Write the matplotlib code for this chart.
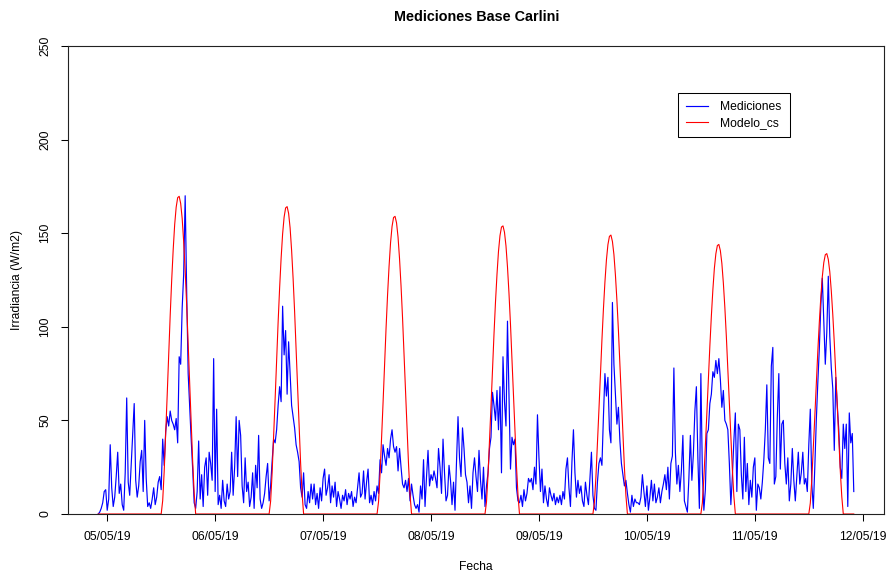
import numpy as np
import matplotlib
matplotlib.use("Agg")
import matplotlib.pyplot as plt
import matplotlib.dates as mdates

plt.rcParams['font.family'] = ['Liberation Sans', 'DejaVu Sans']

# serie de mediciones cada 20 minutos, desde 04/05/19 22:00 (UTC)
inicio = np.datetime64('2019-05-04T22:00')
paso = np.timedelta64(20, 'm')

med_05 = [0, 1, 3, 6, 12, 13, 2, 8, 37, 14, 4, 9, 20, 33, 11, 16, 5, 2, 22, 62,
          17, 10, 26, 42, 59, 18, 9, 15, 28, 34, 12, 50, 19, 4, 6, 3, 8, 14, 5, 9,
          17, 20, 13, 40, 26, 44, 52, 47, 55, 50, 48, 45, 51, 38, 84, 80, 110, 128, 170, 119,
          75, 57, 40, 24, 6, 3, 12, 39, 8, 21, 4, 25]
med_06 = [30, 10, 33, 27, 18, 83, 12, 56, 5, 10, 3, 18, 7, 4, 16, 8, 12, 33, 10, 25,
          52, 20, 50, 42, 15, 6, 30, 12, 17, 4, 9, 22, 3, 26, 14, 42, 8, 3, 6, 11,
          20, 27, 7, 15, 28, 40, 38, 45, 58, 68, 60, 111, 85, 98, 64, 92, 75, 58, 52, 46,
          37, 33, 28, 14, 9, 22, 5, 3, 12, 6, 16, 8]
med_07 = [16, 5, 11, 3, 14, 7, 19, 24, 10, 14, 21, 6, 15, 9, 17, 4, 12, 8, 3, 10,
          7, 13, 5, 11, 8, 12, 4, 9, 6, 14, 22, 9, 11, 23, 8, 17, 24, 6, 10, 5,
          12, 7, 15, 11, 29, 22, 37, 31, 26, 35, 30, 40, 45, 36, 33, 36, 23, 35, 25, 16,
          14, 18, 12, 19, 7, 16, 10, 5, 3, 5, 1, 15]
med_08 = [8, 29, 4, 20, 34, 15, 21, 18, 23, 19, 14, 35, 25, 11, 40, 22, 7, 10, 26, 18,
          5, 17, 2, 28, 52, 30, 20, 46, 35, 21, 17, 6, 15, 3, 22, 30, 20, 12, 34, 18,
          8, 25, 4, 15, 22, 35, 41, 65, 58, 50, 66, 45, 68, 22, 84, 60, 47, 103, 64, 24,
          41, 37, 40, 14, 7, 6, 10, 4, 13, 7, 11, 19]
med_09 = [17, 19, 13, 25, 16, 53, 30, 12, 24, 6, 15, 8, 4, 14, 10, 7, 11, 5, 9, 6,
          10, 5, 12, 8, 24, 30, 14, 4, 28, 45, 22, 9, 18, 11, 15, 7, 4, 17, 10, 5,
          19, 33, 10, 3, 2, 17, 27, 30, 26, 52, 75, 63, 73, 45, 38, 113, 80, 64, 48, 57,
          39, 27, 21, 15, 18, 11, 5, 1, 10, 4, 8, 6]
med_10 = [6, 5, 9, 21, 12, 4, 15, 2, 9, 18, 7, 16, 6, 9, 14, 6, 12, 16, 21, 13,
          25, 8, 27, 31, 78, 33, 16, 26, 12, 23, 42, 7, 4, 1, 19, 42, 18, 32, 55, 68,
          30, 3, 75, 22, 2, 13, 43, 45, 59, 64, 76, 73, 82, 75, 83, 72, 57, 66, 50, 48,
          45, 27, 5, 20, 39, 54, 12, 48, 45, 21, 8, 41]
med_11 = [12, 27, 5, 18, 9, 25, 30, 2, 16, 14, 8, 17, 29, 45, 69, 30, 27, 79, 89, 16,
          20, 52, 75, 24, 48, 50, 27, 16, 30, 7, 16, 35, 18, 7, 20, 33, 16, 22, 33, 16,
          19, 12, 37, 56, 16, 3, 25, 50, 70, 88, 111, 126, 103, 80, 97, 127, 95, 78, 67, 34,
          73, 58, 45, 25, 19, 48, 35, 48, 4, 54, 38, 43, 12]

# modelo de cielo claro, cada 20 minutos de 12:00 a 19:40 (fuera de ese rango vale 0)
cs_05 = [0, 7.1, 22.7, 42.4, 63.4, 84.6, 105.9, 124.8, 141.1, 154.6, 163.9, 169.0,
         169.7, 165.9, 157.9, 145.5, 130.0, 111.8, 91.0, 69.8, 48.7, 28.2, 11.3, 0]
cs_06 = [0, 6.8, 22.0, 41.1, 61.3, 81.9, 102.4, 120.7, 136.6, 149.6, 158.6, 163.5,
         164.2, 160.6, 152.8, 140.8, 125.8, 108.2, 88.1, 67.5, 47.1, 27.3, 10.9, 0]
cs_07 = [0, 6.6, 21.3, 39.8, 59.4, 79.3, 99.2, 116.9, 132.2, 144.9, 153.6, 158.4,
         159.0, 155.5, 147.9, 136.3, 121.8, 104.8, 85.3, 65.4, 45.6, 26.4, 10.6, 0]
cs_08 = [0, 6.4, 20.6, 38.5, 57.5, 76.8, 96.0, 113.2, 128.0, 140.3, 148.7, 153.3,
         153.9, 150.5, 143.2, 132.0, 117.9, 101.4, 82.6, 63.3, 44.1, 25.6, 10.3, 0]
cs_09 = [0, 6.2, 19.9, 37.2, 55.6, 74.3, 92.9, 109.5, 123.9, 135.7, 143.9, 148.3,
         149.0, 145.6, 138.6, 127.7, 114.1, 98.1, 79.9, 61.3, 42.7, 24.8, 9.9, 0]
cs_10 = [0, 6.0, 19.3, 36.0, 53.8, 71.8, 89.8, 105.8, 119.7, 131.2, 139.0, 143.4,
         144.0, 140.7, 133.9, 123.4, 110.3, 94.8, 77.2, 59.2, 41.3, 23.9, 9.6, 0]
cs_11 = [0, 5.8, 18.6, 34.8, 52.0, 69.3, 86.7, 102.2, 115.6, 126.7, 134.3, 138.5,
         139.1, 136.0, 129.4, 119.2, 106.5, 91.6, 74.6, 57.2, 39.9, 23.1, 9.3, 0]
cs_inicio = ['2019-05-05T12:00', '2019-05-06T12:00', '2019-05-07T12:00', '2019-05-08T12:00',
             '2019-05-09T12:00', '2019-05-10T12:00', '2019-05-11T12:00']

mediciones = np.concatenate([med_05, med_06, med_07, med_08, med_09, med_10, med_11])
fechas = inicio + paso * np.arange(len(mediciones))

modelo = np.zeros(len(mediciones))
for t0, dia in zip(cs_inicio, [cs_05, cs_06, cs_07, cs_08, cs_09, cs_10, cs_11]):
    i0 = np.searchsorted(fechas, np.datetime64(t0))
    modelo[i0:i0 + len(dia)] = dia

W, H = 886, 574
fig = plt.figure(figsize=(W / 100, H / 100), dpi=100)
ax = fig.add_axes([68 / W, 60 / H, 816 / W, 468 / H])

ax.plot(fechas, mediciones, color='blue', lw=0.85)
ax.plot(fechas, modelo, color='red', lw=0.8)

ax.margins(x=0.04)
ax.set_ylim(0, 250)
ax.set_yticks([0, 50, 100, 150, 200, 250])
ax.xaxis.set_major_locator(mdates.DayLocator())
ax.xaxis.set_major_formatter(mdates.DateFormatter('%d/%m/%y'))

for s in ax.spines.values():
    s.set_linewidth(0.8)
    s.set_color('#222222')
    s.set_zorder(3)
ax.tick_params(direction='out', length=5, width=0.75, labelsize=8.7, colors='black')
ax.tick_params(axis='x', pad=7)
ax.tick_params(axis='y', pad=7, labelrotation=90)
for lab in ax.get_yticklabels():
    lab.set_verticalalignment('center')

leg = ax.legend(['Mediciones', 'Modelo_cs'], loc='upper left',
                bbox_to_anchor=(678 / W, 1 - 92.5 / H), bbox_transform=fig.transFigure,
                fancybox=False, edgecolor='black', framealpha=1, fontsize=8.7,
                handlelength=1.8, handletextpad=0.95, borderpad=0.7,
                labelspacing=0.32, borderaxespad=0)
leg.get_frame().set_linewidth(0.75)

fig.text(477 / W, 1 - 17 / H, 'Mediciones Base Carlini', ha='center', va='center',
         fontsize=10.4, fontweight='bold')
fig.text(476 / W, 1 - 567 / H, 'Fecha', ha='center', va='center', fontsize=8.7)
fig.text(17 / W, 1 - 280 / H, 'Irradiancia (W/m2)', ha='center', va='center',
         rotation=90, fontsize=8.7)

fig.savefig('out.png', dpi=100)
